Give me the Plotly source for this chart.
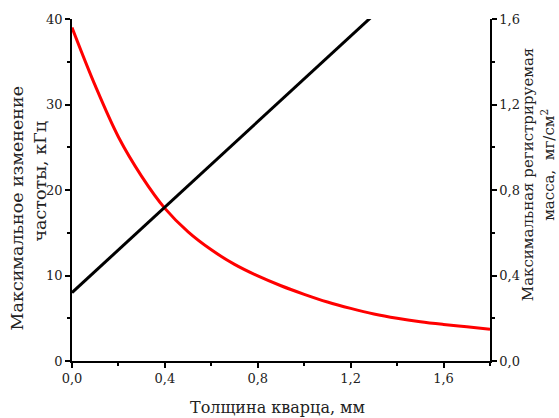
import plotly.graph_objects as go

# Quartz thickness, mm
thickness = [0.0, 0.1, 0.2, 0.3, 0.4, 0.5, 0.6, 0.7, 0.8, 0.9, 1.0,
             1.1, 1.2, 1.3, 1.4, 1.5, 1.6, 1.7, 1.8]
# Maximum frequency change, kHz
freq_change = [39.0, 32.2, 26.2, 21.6, 17.85, 15.1, 13.0, 11.3, 9.95, 8.8, 7.8,
               6.9, 6.15, 5.5, 5.0, 4.6, 4.28, 4.0, 3.72]
# Maximum detectable mass, mg/cm^2 (linear in thickness)
mass_thickness = [0.0, 1.8]
mass_values = [0.32, 2.12]

FONT = "DejaVu Serif"
TEXT = "#222"

fig = go.Figure()
fig.add_trace(go.Scatter(x=thickness, y=freq_change, mode="lines",
                         line=dict(color="#ff0000", width=3, shape="spline", smoothing=1.0),
                         yaxis="y", showlegend=False))
fig.add_trace(go.Scatter(x=mass_thickness, y=mass_values, mode="lines",
                         line=dict(color="#000000", width=3),
                         yaxis="y2", showlegend=False))

axis_common = dict(
    showline=True, linecolor="black", linewidth=1.5,
    ticks="outside", ticklen=5, tickwidth=1.5, tickcolor="black",
    showgrid=False, zeroline=False,
    tickfont=dict(family=FONT, size=13, color=TEXT),
)
minor_common = dict(ticks="outside", ticklen=3, tickwidth=1.5, tickcolor="black")

fig.update_layout(
    width=559, height=418,
    margin=dict(l=72, r=69, t=17, b=57),
    paper_bgcolor="white", plot_bgcolor="white",
    separators=", ",
    font=dict(family=FONT, color=TEXT),
    xaxis=dict(range=[0, 1.8], tick0=0, dtick=0.4, tickformat=".1f",
               minor=dict(dtick=0.2, **minor_common), **axis_common),
    yaxis=dict(range=[0, 40], tick0=0, dtick=10,
               minor=dict(dtick=5, **minor_common), **axis_common),
    yaxis2=dict(range=[0, 1.6], tick0=0, dtick=0.4, tickformat=".1f",
                overlaying="y", side="right",
                minor=dict(dtick=0.2, **minor_common), **axis_common),
)

annotations = [
    dict(text="Максимальное изменение", x=-0.1316, y=0.4462, textangle=-90, size=17.5),
    dict(text="частоты, кГц", x=-0.0766, y=0.5276, textangle=-90, size=17.5),
    dict(text="Максимальная регистрируемая", x=1.090, y=0.545, textangle=-90, size=15),
    dict(text="масса,&nbsp; мг/см<sup>2</sup>", x=1.138, y=0.5727, textangle=-90, size=15),
    dict(text="Толщина кварца, мм", x=0.4916, y=-0.1366, textangle=0, size=16),
]
for a in annotations:
    size = a.pop("size")
    fig.add_annotation(xref="paper", yref="paper", showarrow=False,
                       xanchor="center", yanchor="middle",
                       font=dict(family=FONT, size=size, color=TEXT), **a)

fig.write_html("out.html")
